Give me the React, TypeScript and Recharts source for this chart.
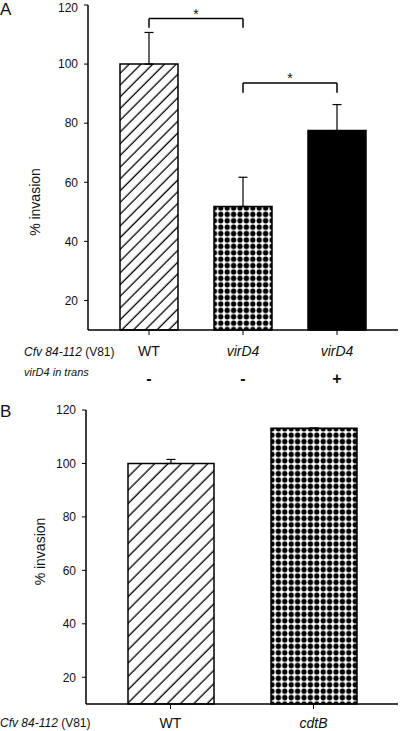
import React from 'react';
import { BarChart, Bar, Cell, XAxis, YAxis, ErrorBar, ReferenceLine } from 'recharts';

// panel A
const categoriesA = ['wt', 'virD4', 'virD4comp'];
const labelsA = ['WT', 'virD4', 'virD4'];
const italicA = [false, true, true];
const invasionA = [100, 51.8, 77.5];
const errorUpA = [10.7, 9.9, 8.8];
const transA = ['-', '-', '+'];
const fillsA = ['url(#hatchA)', 'url(#dots)', '#000000'];

// significance brackets: [from, to, bar level, foot level]
const bracketsA: [string, string, number, number][] = [
  ['wt', 'virD4', 115.4, 112.3],
  ['virD4', 'virD4comp', 93.6, 90.3],
];

// panel B
const categoriesB = ['wt', 'cdtB'];
const labelsB = ['WT', 'cdtB'];
const italicB = [false, true];
const invasionB = [100, 113.2];
const errorUpB = [1.5, 0];
const fillsB = ['url(#hatchB)', 'url(#dots)'];

const yTicks = [20, 40, 60, 80, 100, 120];

const FONT = '"Liberation Sans", Arial, sans-serif';
const TEXT = '#111';

const dataA = categoriesA.map((id, i) => ({
  id,
  value: invasionA[i],
  err: [0, errorUpA[i]],
}));

const dataB = categoriesB.map((id, i) => ({
  id,
  value: invasionB[i],
  err: [0, errorUpB[i]],
}));

const TickA = (props: any) => {
  const { x, y, payload } = props;
  const i = categoriesA.indexOf(payload.value);
  return (
    <g>
      <text
        x={x}
        y={y + 19}
        textAnchor="middle"
        fontSize={14}
        fontStyle={italicA[i] ? 'italic' : 'normal'}
        fill={TEXT}
        fontFamily={FONT}
      >
        {labelsA[i]}
      </text>
      <text x={x} y={y + 47} textAnchor="middle" fontSize={16} fontWeight="bold" fill={TEXT} fontFamily={FONT}>
        {transA[i]}
      </text>
    </g>
  );
};

const TickB = (props: any) => {
  const { x, y, payload } = props;
  const i = categoriesB.indexOf(payload.value);
  return (
    <text
      x={x}
      y={y + 17}
      textAnchor="middle"
      fontSize={14}
      fontStyle={italicB[i] ? 'italic' : 'normal'}
      fill={TEXT}
      fontFamily={FONT}
    >
      {labelsB[i]}
    </text>
  );
};

const yTickStyle = { fontSize: 12, fill: TEXT, fontFamily: FONT };

const App: React.FC = () => {
  return (
    <div style={{ position: 'absolute', left: 0, top: 0, width: 400, height: 731, background: '#fff' }}>
      <svg width={0} height={0} style={{ position: 'absolute' }}>
        <defs>
          <pattern id="hatchA" patternUnits="userSpaceOnUse" width={8.3} height={8.3} patternTransform="rotate(45)">
            <rect width={8.3} height={8.3} fill="#fff" />
            <line x1={4} y1={0} x2={4} y2={8.3} stroke="#000" strokeWidth={1.3} />
          </pattern>
          <pattern id="hatchB" patternUnits="userSpaceOnUse" width={9.4} height={9.4} patternTransform="rotate(45)">
            <rect width={9.4} height={9.4} fill="#fff" />
            <line x1={4} y1={0} x2={4} y2={9.4} stroke="#000" strokeWidth={1.3} />
          </pattern>
          <pattern id="dots" patternUnits="userSpaceOnUse" width={6.4} height={6.4}>
            <rect width={6.4} height={6.4} fill="#fff" />
            <circle cx={3.2} cy={3.2} r={2.65} fill="#000" />
          </pattern>
        </defs>
      </svg>

      <div style={{ position: 'absolute', left: 0, top: 0 }}>
        <BarChart width={400} height={392} data={dataA} margin={{ top: 5, right: 2, bottom: 0, left: 0 }}>
          <XAxis
            dataKey="id"
            height={62}
            padding={{ left: 14, right: 14 }}
            tick={<TickA />}
            tickSize={5}
            tickLine={{ stroke: '#000' }}
            axisLine={{ stroke: '#000', strokeWidth: 1.5 }}
          />
          <XAxis xAxisId="top" orientation="top" dataKey="id" height={0} tick={false} tickLine={false} axisLine={{ stroke: '#444' }} />
          <YAxis
            width={88}
            domain={[10, 120]}
            ticks={yTicks}
            tick={yTickStyle}
            tickSize={4}
            tickMargin={6}
            tickLine={{ stroke: '#000' }}
            axisLine={{ stroke: '#000', strokeWidth: 1.5 }}
            label={{ value: '% invasion', angle: -90, position: 'center', dx: -9, dy: 34.5, fontSize: 14, fill: TEXT, fontFamily: FONT }}
          />
          <YAxis yAxisId="right" orientation="right" width={0} domain={[10, 120]} tick={false} tickLine={false} axisLine={{ stroke: '#444' }} />
          <Bar dataKey="value" barSize={58} stroke="#000" strokeWidth={1.5} isAnimationActive={false}>
            {dataA.map((d, i) => (
              <Cell key={d.id} fill={fillsA[i]} />
            ))}
            <ErrorBar dataKey="err" direction="y" width={4.5} stroke="#000" strokeWidth={1.2} />
          </Bar>
          {bracketsA.map(([from, to, top, foot], i) => (
            <React.Fragment key={i}>
              <ReferenceLine
                segment={[{ x: from, y: top }, { x: to, y: top }]}
                stroke="#000"
                strokeWidth={1.5}
                label={{ value: '*', position: 'top', offset: 0, fontSize: 14, fill: TEXT, fontFamily: FONT }}
              />
              <ReferenceLine segment={[{ x: from, y: foot }, { x: from, y: top }]} stroke="#000" strokeWidth={1.5} />
              <ReferenceLine segment={[{ x: to, y: foot }, { x: to, y: top }]} stroke="#000" strokeWidth={1.5} />
            </React.Fragment>
          ))}
        </BarChart>
      </div>

      <div style={{ position: 'absolute', left: 0, top: 400 }}>
        <BarChart width={400} height={331} data={dataB} margin={{ top: 10, right: 2, bottom: 0, left: 0 }}>
          <XAxis
            dataKey="id"
            height={27}
            padding={{ left: 13, right: 13 }}
            tick={<TickB />}
            tickSize={5}
            tickLine={{ stroke: '#000' }}
            axisLine={{ stroke: '#000', strokeWidth: 1.5 }}
          />
          <XAxis xAxisId="top" orientation="top" dataKey="id" height={0} tick={false} tickLine={false} axisLine={{ stroke: '#444' }} />
          <YAxis
            width={86}
            domain={[10, 120]}
            ticks={yTicks}
            tick={yTickStyle}
            tickSize={4}
            tickMargin={6}
            tickLine={{ stroke: '#000' }}
            axisLine={{ stroke: '#000', strokeWidth: 1.5 }}
            label={{ value: '% invasion', angle: -90, position: 'center', dx: -3, dy: -5.5, fontSize: 14, fill: TEXT, fontFamily: FONT }}
          />
          <YAxis yAxisId="right" orientation="right" width={0} domain={[10, 120]} tick={false} tickLine={false} axisLine={{ stroke: '#444' }} />
          <Bar dataKey="value" barSize={86} stroke="#000" strokeWidth={1.5} isAnimationActive={false}>
            {dataB.map((d, i) => (
              <Cell key={d.id} fill={fillsB[i]} />
            ))}
            <ErrorBar dataKey="err" direction="y" width={4.5} stroke="#000" strokeWidth={1.2} />
          </Bar>
        </BarChart>
      </div>

      {/* panel letters and row headers */}
      <svg width={400} height={731} style={{ position: 'absolute', left: 0, top: 0, pointerEvents: 'none' }}>
        <text x={0} y={15} fontSize={17} fill={TEXT} fontFamily={FONT}>A</text>
        <text x={0} y={417} fontSize={17} fill={TEXT} fontFamily={FONT}>B</text>
        <text x={24} y={356} fontSize={12} fill={TEXT} fontFamily={FONT}>
          <tspan fontStyle="italic">Cfv 84-112</tspan> (V81)
        </text>
        <text x={24} y={376} fontSize={11} fontStyle="italic" fill={TEXT} fontFamily={FONT}>
          virD4 in trans
        </text>
        <text x={0} y={727} fontSize={12} fill={TEXT} fontFamily={FONT}>
          <tspan fontStyle="italic">Cfv 84-112</tspan> (V81)
        </text>
      </svg>
    </div>
  );
};

export default App;
